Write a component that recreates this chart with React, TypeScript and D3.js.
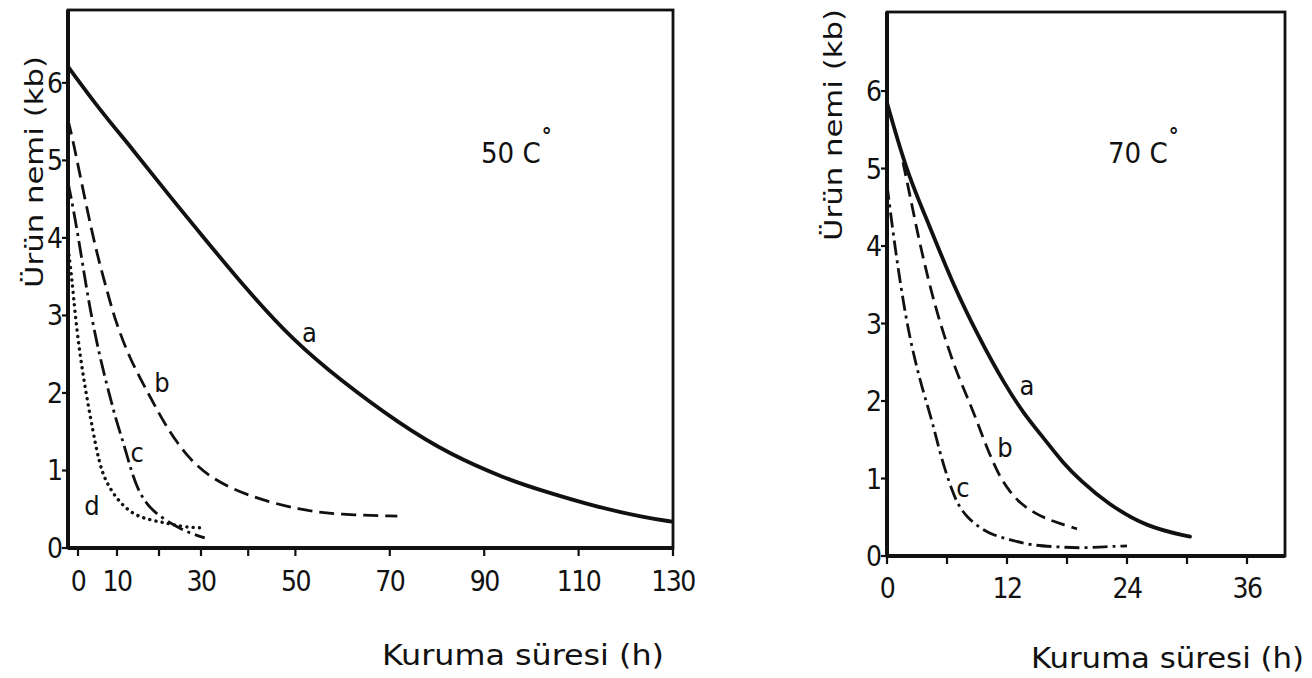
import React from 'react';
import * as d3 from 'd3';

// ---------- Data ----------
// Left panel: 50 C°, drying time (h) vs product moisture (kb)
const leftATime = [-2.6, 5.6, 13.8, 21.9, 29.8, 39.7, 49.5, 59.4, 72.1, 82.6, 94.7, 101.7, 113.7, 124.3, 129.8];
const leftAMoist = [6.21, 5.65, 5.14, 4.58, 4.06, 3.33, 2.68, 2.17, 1.6, 1.21, 0.89, 0.75, 0.53, 0.39, 0.34];

const leftBTime = [-2.6, -1.3, 1.8, 4.9, 7.4, 9.5, 13.1, 17.9, 21.4, 26.7, 32.5, 40.4, 50.9, 59.4, 71.6];
const leftBMoist = [5.52, 5.26, 4.49, 3.78, 3.33, 2.94, 2.43, 1.95, 1.59, 1.17, 0.88, 0.66, 0.49, 0.43, 0.41];

const leftCTime = [-2.6, -0.8, 1.0, 3.1, 5.6, 8.2, 10, 11.7, 13.3, 15.0, 16.9, 19.5, 24.3, 27.4, 30.8];
const leftCMoist = [4.72, 4.27, 3.72, 3.07, 2.46, 1.95, 1.61, 1.33, 1.01, 0.75, 0.58, 0.43, 0.27, 0.19, 0.13];

const leftDTime = [-2.34, -1.56, -0.78, 0.5, 2.05, 3.85, 5.4, 6.9, 10, 13.8, 17.9, 21.9, 25.7, 30.4];
const leftDMoist = [3.78, 3.46, 3.03, 2.49, 2.0, 1.5, 1.11, 0.88, 0.62, 0.43, 0.36, 0.32, 0.27, 0.26];

// Right panel: 70 C°
const rightATime = [0, 2.0, 4.3, 6.4, 9.3, 11.8, 13.6, 15.8, 17.6, 19.3, 22.0, 26.0, 30.3];
const rightAMoist = [5.85, 4.94, 4.25, 3.56, 2.79, 2.21, 1.85, 1.5, 1.2, 0.98, 0.68, 0.37, 0.25];

const rightBTime = [1.6, 2.3, 3.1, 3.9, 4.8, 5.8, 6.9, 8.0, 9.0, 10.0, 11.3, 12.3, 13.3, 14.8, 16.3, 17.8, 19.0];
const rightBMoist = [5.08, 4.65, 4.14, 3.69, 3.23, 2.81, 2.39, 2.06, 1.74, 1.39, 1.01, 0.83, 0.68, 0.55, 0.46, 0.4, 0.35];

const rightCTime = [0, 0.6, 1.2, 1.9, 2.6, 3.5, 4.5, 5.1, 5.8, 6.5, 7.1, 8.0, 9.3, 10.6, 12.3, 14.3, 16.8, 19.3, 21.8, 24.0];
const rightCMoist = [4.79, 4.18, 3.63, 3.07, 2.63, 2.17, 1.75, 1.43, 1.11, 0.85, 0.66, 0.5, 0.36, 0.27, 0.21, 0.14, 0.12, 0.1, 0.12, 0.13];

// Axis ticks
const leftXTicks = [0, 10, 20, 30, 40, 50, 70, 90, 110, 130];
const leftXTickLabels = [0, 10, 30, 50, 70, 90, 110, 130];
const rightXTicks = [0, 6, 12, 18, 24, 30, 36];
const rightXTickLabels = [0, 12, 24, 36];
const yTicks = [0, 1, 2, 3, 4, 5, 6];

// Curve labels (data coordinates)
const leftCurveNames = ['a', 'b', 'c', 'd'];
const leftLabelTime = [53.0, 20.7, 14.8, 3.6];
const leftLabelMoist = [2.66, 2.01, 1.11, 0.43];
const rightCurveNames = ['a', 'b', 'c'];
const rightLabelTime = [14.0, 11.8, 7.6];
const rightLabelMoist = [2.08, 1.28, 0.76];

const yTitle = 'Ürün nemi  (kb)';
const xTitle = 'Kuruma  süresi (h)';
const leftTemp = '50 C';
const rightTemp = '70 C';

// ---------- Styling ----------
const FONT = '"DejaVu Sans Condensed", "DejaVu Sans", sans-serif';
const INK = '#111';

const styleA = { strokeWidth: 3.8, dash: undefined as string | undefined, cap: 'round' };
const styleB = { strokeWidth: 2.8, dash: '15 7', cap: 'butt' };
const styleC = { strokeWidth: 2.8, dash: '17 5 3 5', cap: 'butt' };
const styleD = { strokeWidth: 3.4, dash: '0.1 6.2', cap: 'round' };

function zip(xs: number[], ys: number[]) {
  return xs.map((x, i) => [x, ys[i]] as [number, number]);
}

type Panel = {
  x: d3.ScaleLinear<number, number>;
  y: d3.ScaleLinear<number, number>;
  xTicks: number[];
  xTickLabels: number[];
  series: { pts: [number, number][]; style: any }[];
  names: string[];
  lt: number[];
  lm: number[];
  temp: string;
  tempX: number;
  tempY: number;
  yTitleX: number;
  yTitleFrom: number;
  yTitleTo: number;
  xTitleFrom: number;
  xTitleTo: number;
  xTitleY: number;
  xLabelY: number;
};

function PanelView({ p }: { p: Panel }) {
  const xr = p.x.range();
  const x0 = xr[0];
  const x1 = xr[xr.length - 1];
  const [yb, yt] = p.y.range();
  const line = d3
    .line<[number, number]>()
    .x((d) => p.x(d[0]))
    .y((d) => p.y(d[1]))
    .curve(d3.curveBasis);
  return (
    <g>
      {/* curves */}
      {p.series.map((s, i) => (
        <path
          key={i}
          d={line(s.pts) || ''}
          fill="none"
          stroke={INK}
          strokeWidth={s.style.strokeWidth}
          strokeDasharray={s.style.dash}
          strokeLinecap={s.style.cap}
          strokeLinejoin="round"
        />
      ))}
      {/* frame */}
      <rect x={x0} y={yt} width={x1 - x0} height={yb - yt} fill="none" stroke={INK} strokeWidth={2.8} />
      <line x1={x0} x2={x0} y1={yt} y2={yb} stroke={INK} strokeWidth={4} />
      <line x1={x0} x2={x1} y1={yb} y2={yb} stroke={INK} strokeWidth={4} />
      {/* y ticks */}
      {yTicks.map((t) => (
        <g key={'y' + t}>
          <line x1={x0 - 6} x2={x0} y1={p.y(t)} y2={p.y(t)} stroke={INK} strokeWidth={2.2} />
          <text
            x={x0 - 5}
            y={p.y(t) + 10}
            textAnchor="end"
            fontFamily={FONT}
            fontSize={28}
            fill={INK}
          >
            {t}
          </text>
        </g>
      ))}
      {/* x ticks */}
      {p.xTicks.map((t) => (
        <line key={'x' + t} x1={p.x(t)} x2={p.x(t)} y1={yb} y2={yb + 8} stroke={INK} strokeWidth={2.2} />
      ))}
      {p.xTickLabels.map((t) => (
        <text
          key={'xl' + t}
          x={p.x(t)}
          y={p.xLabelY}
          textAnchor="middle"
          fontFamily={FONT}
          fontSize={28}
          letterSpacing={-1.5}
          fill={INK}
        >
          {t}
        </text>
      ))}
      {/* curve labels */}
      {p.names.map((n, i) => (
        <text
          key={'n' + n}
          x={p.x(p.lt[i])}
          y={p.y(p.lm[i])}
          textAnchor="middle"
          fontFamily={FONT}
          fontSize={27}
          fill={INK}
        >
          {n}
        </text>
      ))}
      {/* temperature */}
      <text x={p.tempX} y={p.tempY} fontFamily={FONT} fontSize={29} fill={INK}>
        {p.temp}
        <tspan dy={-20} dx={1} fontSize={22} fontWeight="bold">
          °
        </tspan>
      </text>
      {/* axis titles */}
      <text
        transform={`translate(${p.yTitleX},${p.yTitleFrom}) rotate(-90)`}
        x={0}
        y={0}
        fontFamily={FONT}
        fontSize={25}
        textLength={p.yTitleFrom - p.yTitleTo}
        lengthAdjust="spacingAndGlyphs"
        fill={INK}
      >
        {yTitle}
      </text>
      <text
        x={p.xTitleFrom}
        y={p.xTitleY}
        fontFamily={FONT}
        fontSize={28}
        textLength={p.xTitleTo - p.xTitleFrom}
        lengthAdjust="spacingAndGlyphs"
        fill={INK}
      >
        {xTitle}
      </text>
    </g>
  );
}

export default function App() {
  const leftX = d3.scaleLinear().domain([-2.6, 0, 10, 30, 130]).range([68, 78, 117, 201, 673]);
  const leftY = d3.scaleLinear().domain([0, 6.94]).range([548, 10]);
  const rightX = d3.scaleLinear().domain([0, 39.8]).range([887, 1285]);
  const rightY = d3.scaleLinear().domain([0, 7.02]).range([556, 12]);

  const left: Panel = {
    x: leftX,
    y: leftY,
    xTicks: leftXTicks,
    xTickLabels: leftXTickLabels,
    series: [
      { pts: zip(leftATime, leftAMoist), style: styleA },
      { pts: zip(leftBTime, leftBMoist), style: styleB },
      { pts: zip(leftCTime, leftCMoist), style: styleC },
      { pts: zip(leftDTime, leftDMoist), style: styleD },
    ],
    names: leftCurveNames,
    lt: leftLabelTime,
    lm: leftLabelMoist,
    temp: leftTemp,
    tempX: 481,
    tempY: 163,
    yTitleX: 43,
    yTitleFrom: 288,
    yTitleTo: 56,
    xTitleFrom: 382,
    xTitleTo: 664,
    xTitleY: 665,
    xLabelY: 591,
  };
  const right: Panel = {
    x: rightX,
    y: rightY,
    xTicks: rightXTicks,
    xTickLabels: rightXTickLabels,
    series: [
      { pts: zip(rightATime, rightAMoist), style: styleA },
      { pts: zip(rightBTime, rightBMoist), style: { ...styleB, dash: '14 7' } },
      { pts: zip(rightCTime, rightCMoist), style: { ...styleC, dash: '15 5 3 5' } },
    ],
    names: rightCurveNames,
    lt: rightLabelTime,
    lm: rightLabelMoist,
    temp: rightTemp,
    tempX: 1108,
    tempY: 163,
    yTitleX: 842,
    yTitleFrom: 241,
    yTitleTo: 9,
    xTitleFrom: 1031,
    xTitleTo: 1304,
    xTitleY: 668,
    xLabelY: 598,
  };

  return (
    <svg
      width={1312}
      height={678}
      viewBox="0 0 1312 678"
      style={{ position: 'absolute', left: 0, top: 0, display: 'block', background: '#fff' }}
    >
      <rect x={0} y={0} width={1312} height={678} fill="#fff" />
      <PanelView p={left} />
      <PanelView p={right} />
    </svg>
  );
}
